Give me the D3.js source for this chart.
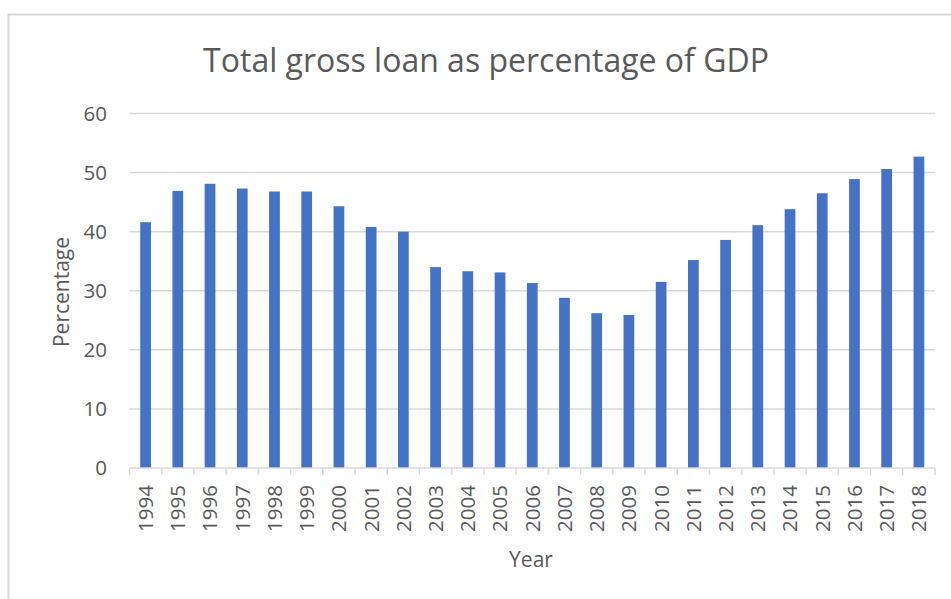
<!DOCTYPE html>
<html>
<head>
<meta charset="utf-8">
<script src="https://cdn.jsdelivr.net/npm/d3@7"></script>
<style>
  body { margin: 0; background: #fff; }
  text { font-family: "Open Sans", sans-serif; fill: #595959; }
</style>
</head>
<body>
<div id="container"></div>
<script>
/* CONSTANTS AND GLOBALS */
const width = 951,
  height = 599,
  margin = {top: 113.5, bottom: 131, left: 129.5, right: 16};

/* DATA */
const years = ["1994","1995","1996","1997","1998","1999","2000","2001","2002","2003","2004","2005",
  "2006","2007","2008","2009","2010","2011","2012","2013","2014","2015","2016","2017","2018"];
const loanPct = [41.6, 46.9, 48.1, 47.3, 46.8, 46.8, 44.3, 40.8, 40.0, 34.0, 33.3, 33.1,
  31.3, 28.8, 26.2, 25.9, 31.5, 35.2, 38.6, 41.1, 43.8, 46.5, 48.9, 50.6, 52.7];
const yTicks = [0, 10, 20, 30, 40, 50, 60];

const data = years.map((y, i) => ({year: y, value: loanPct[i]}));

/* SVG */
const svg = d3.select("#container")
  .append("svg")
  .attr("width", width)
  .attr("height", height);

// chart border
svg.append("rect")
  .attr("x", 8.5).attr("y", 14.5)
  .attr("width", 970).attr("height", 620)
  .attr("fill", "none")
  .attr("stroke", "#d9d9d9")
  .attr("stroke-width", 2);

/* SCALES */
const xScale = d3.scaleBand()
  .domain(years)
  .range([margin.left, width - margin.right])
  .paddingInner(0.667)
  .paddingOuter(0.333);

const xOuter = d3.scaleBand()
  .domain(years)
  .range([margin.left, width - margin.right]);

const yScale = d3.scaleLinear()
  .domain([0, 60])
  .range([height - margin.bottom, margin.top]);

// gridlines
svg.append("g")
  .selectAll("line")
  .data(yTicks.filter(d => d > 0))
  .join("line")
  .attr("x1", margin.left)
  .attr("x2", width - margin.right)
  .attr("y1", d => yScale(d))
  .attr("y2", d => yScale(d))
  .attr("stroke", "#d9d9d9")
  .attr("stroke-width", 1.5);

// y labels
svg.append("g")
  .selectAll("text")
  .data(yTicks)
  .join("text")
  .attr("x", 107)
  .attr("y", d => yScale(d))
  .attr("dy", "0.36em")
  .attr("text-anchor", "end")
  .style("font-size", "20.5px")
  .text(d => d);

// bars
svg.append("g")
  .selectAll("rect")
  .data(data)
  .join("rect")
  .attr("x", d => xScale(d.year))
  .attr("width", xScale.bandwidth())
  .attr("y", d => yScale(d.value))
  .attr("height", d => yScale(0) - yScale(d.value))
  .attr("fill", "#4472c4");

// x axis line + ticks
const x0 = yScale(0);
svg.append("line")
  .attr("x1", margin.left).attr("x2", width - margin.right)
  .attr("y1", x0).attr("y2", x0)
  .attr("stroke", "#d9d9d9").attr("stroke-width", 1.5);

svg.append("g")
  .selectAll("line")
  .data(years.concat(["end"]))
  .join("line")
  .attr("x1", (d, i) => i < years.length ? xOuter(d) : width - margin.right)
  .attr("x2", (d, i) => i < years.length ? xOuter(d) : width - margin.right)
  .attr("y1", x0)
  .attr("y2", x0 + 7)
  .attr("stroke", "#d9d9d9").attr("stroke-width", 1.5);

// x labels
svg.append("g")
  .selectAll("text")
  .data(years)
  .join("text")
  .attr("transform", d => `translate(${xOuter(d) + xOuter.bandwidth() / 2},485) rotate(-90)`)
  .attr("dy", "0.36em")
  .attr("text-anchor", "end")
  .style("font-size", "20.5px")
  .text(d => d);

// title
svg.append("text")
  .attr("x", 486)
  .attr("y", 72)
  .attr("text-anchor", "middle")
  .style("font-size", "32px")
  .text("Total gross loan as percentage of GDP");

// axis titles
svg.append("text")
  .attr("x", 531)
  .attr("y", 566.5)
  .attr("text-anchor", "middle")
  .style("font-size", "21px")
  .text("Year");

svg.append("text")
  .attr("transform", "translate(69,292) rotate(-90)")
  .attr("text-anchor", "middle")
  .style("font-size", "21px")
  .text("Percentage");
</script>
</body>
</html>
